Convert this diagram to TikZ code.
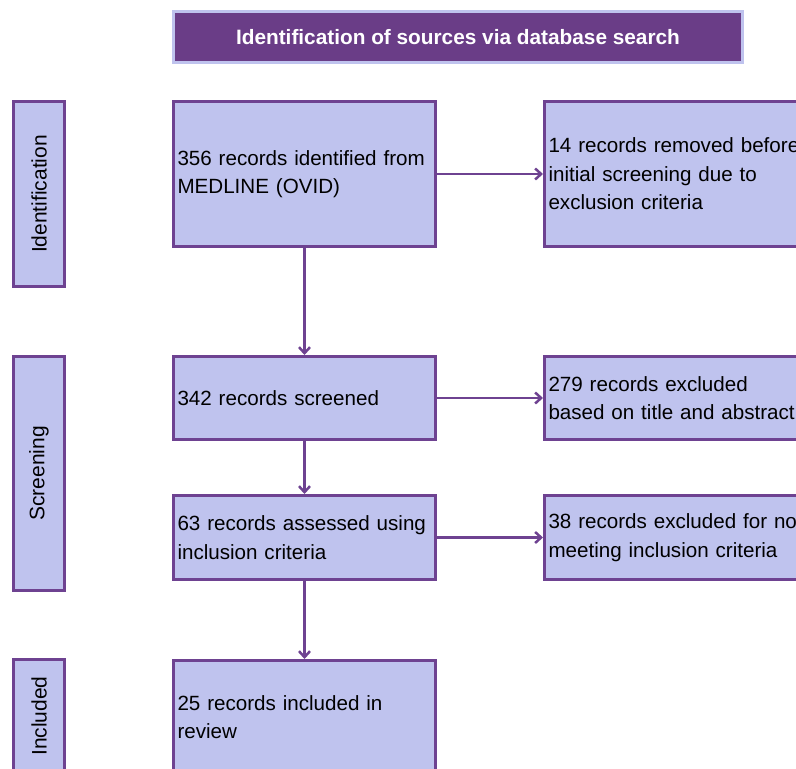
\documentclass[tikz,border=0pt]{standalone}
\usepackage{fontspec}
\setmainfont{Liberation Sans}
\usetikzlibrary{arrows.meta}
\definecolor{fillc}{RGB}{191,195,238}
\definecolor{edgec}{RGB}{110,66,145}
\definecolor{titlec}{RGB}{106,61,135}
\begin{document}
\begin{tikzpicture}[x=1pt,y=-1pt,
  box/.style={draw=edgec, line width=3pt, fill=fillc, rectangle, anchor=north west,
    inner xsep=4pt, inner ysep=0pt, align=left, text width=#1,
    font=\fontsize{20.6}{28.5}\selectfont},
  sidebox/.style={draw=edgec, line width=3pt, fill=fillc, rectangle, rotate=90,
    inner sep=0pt, font=\fontsize{21}{24}\selectfont, minimum height=51pt},
  flow/.style={draw=edgec, line width=2.5pt, -{Straight Barb[length=6pt,width=11pt,line width=2.5pt]}}]
\useasboundingbox (0,0) rectangle (796,769);
\clip (0,0) rectangle (796,769);
% title
\node[draw=fillc, line width=3pt, fill=titlec, text=white, minimum width=569pt, minimum height=51pt,
  inner sep=0pt, font=\fontsize{20.8}{24}\selectfont\bfseries] (title) at (458,37)
  {Identification of sources via database search};
% side labels
\node[sidebox, minimum width=185pt] (sid) at (39,194) {Identification};
\node[sidebox, minimum width=234pt] (sscr) at (39,473.5) {Screening};
\node[sidebox, minimum width=113pt] (sinc) at (39,716) {Included};
% main boxes
\node[box=254pt, minimum height=145pt] (b1) at (172,100) {356 records identified from\\MEDLINE (OVID)};
\node[box=254pt, minimum height=83pt] (b2) at (172,355) {342 records screened};
\node[box=254pt, minimum height=84pt] (b3) at (172,494) {63 records assessed using\\inclusion criteria};
\node[box=254pt, minimum height=113pt] (b4) at (172,659) {25 records included in\\review};
% right boxes
\node[box=300pt, minimum height=145pt] (r1) at (543,100) {14 records removed before\\initial screening due to\\exclusion criteria};
\node[box=300pt, minimum height=83pt] (r2) at (543,355) {279 records excluded\\based on title and abstract};
\node[box=300pt, minimum height=84pt] (r3) at (543,494) {38 records excluded for not\\meeting inclusion criteria};
% connectors
\draw[flow] (b1) -- (b2);
\draw[flow] (b2) -- (b3);
\draw[flow] (b3) -- (b4);
\draw[flow] (b1) -- (r1);
\draw[flow] (b2) -- (r2);
\draw[flow] (b3) -- (r3);
\end{tikzpicture}
\end{document}
